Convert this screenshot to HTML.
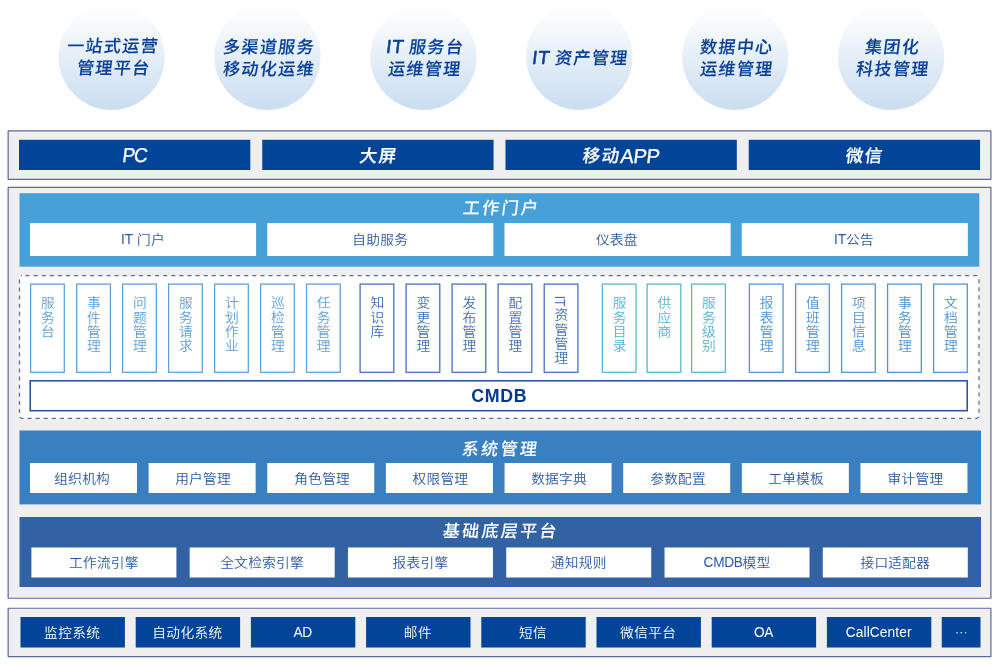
<!DOCTYPE html>
<html lang="zh-CN">
<head>
<meta charset="utf-8">
<title>IT 服务管理平台架构</title>
<style>
*{box-sizing:border-box;margin:0;padding:0}
html,body{width:1000px;height:667px;background:#fff;overflow:hidden}
#root{position:absolute;left:0;top:0;width:1000px;height:667px;will-change:transform}
body{position:relative;font-family:"Liberation Sans","Noto Sans CJK SC",sans-serif;}
.abs{position:absolute}
#shapes{position:absolute;left:0;top:0}
.c{position:absolute;display:flex;align-items:center;justify-content:center;text-align:center;white-space:nowrap}
.c>span{display:inline-block;position:relative}
.sk{display:inline-block;transform:skewX(-7deg)}
.ctext{position:absolute;width:160px;text-align:center;color:#073f96;font-weight:500;-webkit-text-stroke:0.12px #073f96;
  font-size:17px;letter-spacing:1.4px;line-height:22.3px;white-space:nowrap;padding-left:3.6px;word-spacing:-1.2px}
.ctext .la{display:inline;transform:none;top:0;line-height:0;font-weight:400;-webkit-text-stroke:0.55px #073f96;letter-spacing:0.6px;font-size:19px}
.top{color:#fff;font-weight:500;-webkit-text-stroke:0.2px #fff;font-size:17.5px;letter-spacing:1.4px;padding-left:1.4px}
.top>span{top:-1px}
.top .la{transform:none;font-weight:400;-webkit-text-stroke:0.3px #fff;font-size:20px;letter-spacing:-0.3px;position:relative;top:1px}
.sec-title{position:absolute;left:19px;width:961px;text-align:center;color:#fff;font-weight:500;-webkit-text-stroke:0.05px #fff;font-size:17px;letter-spacing:2.3px;white-space:nowrap;line-height:25px;padding-left:2.3px}
.wb{color:#2a58a4;font-size:13.7px;font-weight:350;letter-spacing:0.25px}
.wb>span{top:-1.5px;transform:scaleY(0.92)}
.la{display:inline-block;position:relative;top:0.9px;letter-spacing:-0.4px;transform:scaleY(1.15);transform-origin:50% 80%}
.vb{position:absolute;top:283.5px;height:89.4px;width:34.9px}
.vt{position:absolute;left:50%;margin-left:-6.6px;width:14px;top:12.4px;text-align:center;font-size:13.8px;font-weight:350;line-height:15.65px;word-break:break-all;line-break:anywhere;white-space:normal;transform:scaleY(0.92);transform-origin:50% 0}
.rot{display:inline-block;vertical-align:top;width:14px;height:12.5px;line-height:14px;transform:rotate(90deg) scaleX(0.95);transform-origin:7px 6.25px;white-space:nowrap;text-align:left;font-size:14px}
.up{position:relative;top:-2.65px}
.g1{color:#5b9fd9}
.g2{color:#3f6fb8}
.g3{color:#52b4d2}
.g4{color:#4a92d4}
.bt{font-size:13.7px;font-weight:350;color:#fff;letter-spacing:0.4px;padding-left:0.4px}
.bt>span{top:-1px;transform:scaleY(0.92)}
</style>
</head>
<body>
<div id="root">
<svg id="shapes" width="1000" height="667" viewBox="0 0 1000 667">
<defs><linearGradient id="cg" x1="0" y1="0" x2="0" y2="1"><stop offset="0" stop-color="#ffffff"/><stop offset="0.25" stop-color="#f4f8fc"/><stop offset="0.65" stop-color="#dce9f5"/><stop offset="1" stop-color="#cadef1"/></linearGradient></defs>
<circle cx="111.60" cy="56.75" r="53.2" fill="url(#cg)"/>
<circle cx="267.50" cy="56.75" r="53.2" fill="url(#cg)"/>
<circle cx="423.40" cy="56.75" r="53.2" fill="url(#cg)"/>
<circle cx="579.30" cy="56.75" r="53.2" fill="url(#cg)"/>
<circle cx="735.20" cy="56.75" r="53.2" fill="url(#cg)"/>
<circle cx="891.10" cy="56.75" r="53.2" fill="url(#cg)"/>
<rect x="8.15" y="130.85" width="982.75" height="48.45" fill="#efefef" stroke="#5a67a2" stroke-width="1.2" rx="0.3" ry="0.3"/>
<rect x="19.00" y="139.80" width="231.30" height="30.20" fill="#024497"/>
<rect x="262.25" y="139.80" width="231.30" height="30.20" fill="#024497"/>
<rect x="505.50" y="139.80" width="231.30" height="30.20" fill="#024497"/>
<rect x="748.75" y="139.80" width="231.30" height="30.20" fill="#024497"/>
<rect x="8.15" y="187.40" width="982.75" height="410.85" fill="#efefef" stroke="#5a67a2" stroke-width="1.2" rx="0.3" ry="0.3"/>
<rect x="19.50" y="193.20" width="959.80" height="73.50" fill="#48a0d8"/>
<rect x="30.00" y="223.10" width="226.10" height="32.90" fill="#ffffff"/>
<rect x="267.25" y="223.10" width="226.10" height="32.90" fill="#ffffff"/>
<rect x="504.50" y="223.10" width="226.10" height="32.90" fill="#ffffff"/>
<rect x="741.75" y="223.10" width="226.10" height="32.90" fill="#ffffff"/>
<rect x="19.5" y="275.7" width="959.5" height="142.6" rx="2.5" ry="2.5" fill="#ffffff" stroke="#5a66a0" stroke-width="1.2" stroke-dasharray="4 4.1" stroke-dashoffset="-3.5"/>
<rect x="30.60" y="284.10" width="33.70" height="88.20" fill="#ffffff" stroke="#5b9fd9" stroke-width="1.25"/>
<rect x="76.70" y="284.10" width="33.70" height="88.20" fill="#ffffff" stroke="#5b9fd9" stroke-width="1.25"/>
<rect x="122.60" y="284.10" width="33.70" height="88.20" fill="#ffffff" stroke="#5b9fd9" stroke-width="1.25"/>
<rect x="168.60" y="284.10" width="33.70" height="88.20" fill="#ffffff" stroke="#5b9fd9" stroke-width="1.25"/>
<rect x="214.60" y="284.10" width="33.70" height="88.20" fill="#ffffff" stroke="#5b9fd9" stroke-width="1.25"/>
<rect x="260.60" y="284.10" width="33.70" height="88.20" fill="#ffffff" stroke="#5b9fd9" stroke-width="1.25"/>
<rect x="306.50" y="284.10" width="33.70" height="88.20" fill="#ffffff" stroke="#5b9fd9" stroke-width="1.25"/>
<rect x="360.10" y="284.10" width="33.70" height="88.20" fill="#ffffff" stroke="#3f6fb8" stroke-width="1.25"/>
<rect x="406.10" y="284.10" width="33.70" height="88.20" fill="#ffffff" stroke="#3f6fb8" stroke-width="1.25"/>
<rect x="452.10" y="284.10" width="33.70" height="88.20" fill="#ffffff" stroke="#3f6fb8" stroke-width="1.25"/>
<rect x="498.10" y="284.10" width="33.70" height="88.20" fill="#ffffff" stroke="#3f6fb8" stroke-width="1.25"/>
<rect x="544.20" y="284.10" width="33.70" height="88.20" fill="#ffffff" stroke="#3f6fb8" stroke-width="1.25"/>
<rect x="602.35" y="284.10" width="33.70" height="88.20" fill="#ffffff" stroke="#52b4d2" stroke-width="1.25"/>
<rect x="647.10" y="284.10" width="33.70" height="88.20" fill="#ffffff" stroke="#52b4d2" stroke-width="1.25"/>
<rect x="691.60" y="284.10" width="33.70" height="88.20" fill="#ffffff" stroke="#52b4d2" stroke-width="1.25"/>
<rect x="749.35" y="284.10" width="33.70" height="88.20" fill="#ffffff" stroke="#4a92d4" stroke-width="1.25"/>
<rect x="795.60" y="284.10" width="33.70" height="88.20" fill="#ffffff" stroke="#4a92d4" stroke-width="1.25"/>
<rect x="841.60" y="284.10" width="33.70" height="88.20" fill="#ffffff" stroke="#4a92d4" stroke-width="1.25"/>
<rect x="887.60" y="284.10" width="33.70" height="88.20" fill="#ffffff" stroke="#4a92d4" stroke-width="1.25"/>
<rect x="933.60" y="284.10" width="33.70" height="88.20" fill="#ffffff" stroke="#4a92d4" stroke-width="1.25"/>
<rect x="30.20" y="380.80" width="937.00" height="29.90" fill="#ffffff" stroke="#1f4fa2" stroke-width="1.5"/>
<rect x="19.50" y="430.50" width="961.50" height="73.90" fill="#3a80c0"/>
<rect x="30.00" y="463.00" width="107.00" height="30.00" fill="#ffffff"/>
<rect x="148.64" y="463.00" width="107.00" height="30.00" fill="#ffffff"/>
<rect x="267.28" y="463.00" width="107.00" height="30.00" fill="#ffffff"/>
<rect x="385.92" y="463.00" width="107.00" height="30.00" fill="#ffffff"/>
<rect x="504.56" y="463.00" width="107.00" height="30.00" fill="#ffffff"/>
<rect x="623.20" y="463.00" width="107.00" height="30.00" fill="#ffffff"/>
<rect x="741.84" y="463.00" width="107.00" height="30.00" fill="#ffffff"/>
<rect x="860.48" y="463.00" width="107.00" height="30.00" fill="#ffffff"/>
<rect x="19.50" y="517.00" width="961.50" height="70.00" fill="#3262a3"/>
<rect x="31.40" y="547.50" width="145.00" height="30.00" fill="#ffffff"/>
<rect x="189.68" y="547.50" width="145.00" height="30.00" fill="#ffffff"/>
<rect x="347.96" y="547.50" width="145.00" height="30.00" fill="#ffffff"/>
<rect x="506.24" y="547.50" width="145.00" height="30.00" fill="#ffffff"/>
<rect x="664.52" y="547.50" width="145.00" height="30.00" fill="#ffffff"/>
<rect x="822.80" y="547.50" width="145.00" height="30.00" fill="#ffffff"/>
<rect x="8.15" y="608.25" width="982.75" height="48.35" fill="#efefef" stroke="#5a67a2" stroke-width="1.2" rx="0.3" ry="0.3"/>
<rect x="20.50" y="617.00" width="104.40" height="30.50" fill="#024497"/>
<rect x="135.70" y="617.00" width="104.40" height="30.50" fill="#024497"/>
<rect x="250.90" y="617.00" width="104.40" height="30.50" fill="#024497"/>
<rect x="366.10" y="617.00" width="104.40" height="30.50" fill="#024497"/>
<rect x="481.30" y="617.00" width="104.40" height="30.50" fill="#024497"/>
<rect x="596.50" y="617.00" width="104.40" height="30.50" fill="#024497"/>
<rect x="711.70" y="617.00" width="104.40" height="30.50" fill="#024497"/>
<rect x="826.90" y="617.00" width="104.40" height="30.50" fill="#024497"/>
<rect x="941.75" y="617.00" width="38.75" height="30.50" fill="#024497"/>
</svg>
<div class="ctext" style="left:31.6px;top:35.9px"><span class="sk">一站式运营</span><br><span class="sk">管理平台</span></div>
<div class="ctext" style="left:187.5px;top:37.1px"><span class="sk">多渠道服务</span><br><span class="sk">移动化运维</span></div>
<div class="ctext" style="left:342.9px;top:37.1px"><span class="sk"><span class="la">IT</span> 服务台</span><br><span class="sk">运维管理</span></div>
<div class="ctext" style="left:498.1px;top:48.3px"><span class="sk"><span class="la">IT</span> 资产管理</span></div>
<div class="ctext" style="left:655.2px;top:37.1px"><span class="sk">数据中心</span><br><span class="sk">运维管理</span></div>
<div class="ctext" style="left:811.1px;top:37.1px"><span class="sk">集团化</span><br><span class="sk">科技管理</span></div>
<div class="c top" style="left:19.00px;top:140px;width:231.25px;height:30px"><span class="sk"><span class="la" style="letter-spacing:-1.3px;transform:scaleX(0.95);margin-right:1.3px">PC</span></span></div>
<div class="c top" style="left:262.25px;top:140px;width:231.25px;height:30px"><span class="sk">大屏</span></div>
<div class="c top" style="left:505.50px;top:140px;width:231.25px;height:30px"><span class="sk">移动<span class="la">APP</span></span></div>
<div class="c top" style="left:748.75px;top:140px;width:231.25px;height:30px"><span class="sk">微信</span></div>
<div class="sec-title" style="top:195.8px;left:19.7px"><span class="sk">工作门户</span></div>
<div class="c wb" style="left:30.00px;top:223.00px;width:226.00px;height:33.00px"><span><span class="la" style="letter-spacing:-0.07px">IT</span> 门户</span></div>
<div class="c wb" style="left:267.25px;top:223.00px;width:226.00px;height:33.00px"><span>自助服务</span></div>
<div class="c wb" style="left:503.80px;top:223.00px;width:226.00px;height:33.00px"><span>仪表盘</span></div>
<div class="c wb" style="left:740.95px;top:223.00px;width:226.00px;height:33.00px"><span><span class="la" style="letter-spacing:-0.07px">IT</span>公告</span></div>
<div class="vb g1" style="left:30px"><div class="vt">服务台</div></div>
<div class="vb g1" style="left:76.1px"><div class="vt">事件管理</div></div>
<div class="vb g1" style="left:122px"><div class="vt">问题管理</div></div>
<div class="vb g1" style="left:168px"><div class="vt">服务请求</div></div>
<div class="vb g1" style="left:214px"><div class="vt">计划作业</div></div>
<div class="vb g1" style="left:260px"><div class="vt">巡检管理</div></div>
<div class="vb g1" style="left:305.9px"><div class="vt">任务管理</div></div>
<div class="vb g2" style="left:359.5px"><div class="vt">知识库</div></div>
<div class="vb g2" style="left:405.5px"><div class="vt">变更管理</div></div>
<div class="vb g2" style="left:451.5px"><div class="vt">发布管理</div></div>
<div class="vb g2" style="left:497.5px"><div class="vt">配置管理</div></div>
<div class="vb g2" style="left:543.6px"><div class="vt"><span class="rot">IT</span><span class="up">资管管理</span></div></div>
<div class="vb g3" style="left:601.75px"><div class="vt">服务目录</div></div>
<div class="vb g3" style="left:646.5px"><div class="vt">供应商</div></div>
<div class="vb g3" style="left:691px"><div class="vt">服务级别</div></div>
<div class="vb g4" style="left:748.75px"><div class="vt">报表管理</div></div>
<div class="vb g4" style="left:795px"><div class="vt">值班管理</div></div>
<div class="vb g4" style="left:841px"><div class="vt">项目信息</div></div>
<div class="vb g4" style="left:887px"><div class="vt">事务管理</div></div>
<div class="vb g4" style="left:933px"><div class="vt">文档管理</div></div>
<div class="c" style="left:30px;top:380px;width:938px;height:31px;color:#003a8f;font-weight:700;font-size:17.8px;letter-spacing:0.7px;padding-left:0.7px"><span style="top:0.5px">CMDB</span></div>
<div class="sec-title" style="top:436.9px;left:19.4px"><span class="sk">系统管理</span></div>
<div class="c wb" style="left:28.70px;top:463.00px;width:107.00px;height:30.00px"><span>组织机构</span></div>
<div class="c wb" style="left:149.54px;top:463.00px;width:107.00px;height:30.00px"><span>用户管理</span></div>
<div class="c wb" style="left:268.68px;top:463.00px;width:107.00px;height:30.00px"><span>角色管理</span></div>
<div class="c wb" style="left:386.92px;top:463.00px;width:107.00px;height:30.00px"><span>权限管理</span></div>
<div class="c wb" style="left:505.56px;top:463.00px;width:107.00px;height:30.00px"><span>数据字典</span></div>
<div class="c wb" style="left:624.60px;top:463.00px;width:107.00px;height:30.00px"><span>参数配置</span></div>
<div class="c wb" style="left:742.64px;top:463.00px;width:107.00px;height:30.00px"><span>工单模板</span></div>
<div class="c wb" style="left:861.98px;top:463.00px;width:107.00px;height:30.00px"><span>审计管理</span></div>
<div class="sec-title" style="top:518.7px;left:19.5px"><span class="sk">基础底层平台</span></div>
<div class="c wb" style="left:31.40px;top:547.50px;width:145.00px;height:30.00px"><span>工作流引擎</span></div>
<div class="c wb" style="left:189.68px;top:547.50px;width:145.00px;height:30.00px"><span>全文检索引擎</span></div>
<div class="c wb" style="left:347.96px;top:547.50px;width:145.00px;height:30.00px"><span>报表引擎</span></div>
<div class="c wb" style="left:506.24px;top:547.50px;width:145.00px;height:30.00px"><span>通知规则</span></div>
<div class="c wb" style="left:664.52px;top:547.50px;width:145.00px;height:30.00px"><span><span class="la" style="letter-spacing:-0.35px">CMDB</span>模型</span></div>
<div class="c wb" style="left:822.80px;top:547.50px;width:145.00px;height:30.00px"><span>接口适配器</span></div>
<div class="c bt" style="left:19.90px;top:617.00px;width:104.40px;height:30.50px"><span>监控系统</span></div>
<div class="c bt" style="left:135.10px;top:617.00px;width:104.40px;height:30.50px"><span>自动化系统</span></div>
<div class="c bt" style="left:250.30px;top:617.00px;width:104.40px;height:30.50px"><span><span class="la" style="letter-spacing:-0.35px">AD</span></span></div>
<div class="c bt" style="left:365.50px;top:617.00px;width:104.40px;height:30.50px"><span>邮件</span></div>
<div class="c bt" style="left:480.70px;top:617.00px;width:104.40px;height:30.50px"><span>短信</span></div>
<div class="c bt" style="left:595.90px;top:617.00px;width:104.40px;height:30.50px"><span>微信平台</span></div>
<div class="c bt" style="left:711.10px;top:617.00px;width:104.40px;height:30.50px"><span><span class="la" style="letter-spacing:-0.35px">OA</span></span></div>
<div class="c bt" style="left:826.30px;top:617.00px;width:104.40px;height:30.50px"><span><span class="la" style="letter-spacing:0.11px">CallCenter</span></span></div>
<div class="c bt" style="left:941.75px;top:617.00px;width:38.75px;height:30.50px;font-size:12.6px;letter-spacing:0;padding-top:2.4px"><span>···</span></div>
</div>
</body>
</html>
